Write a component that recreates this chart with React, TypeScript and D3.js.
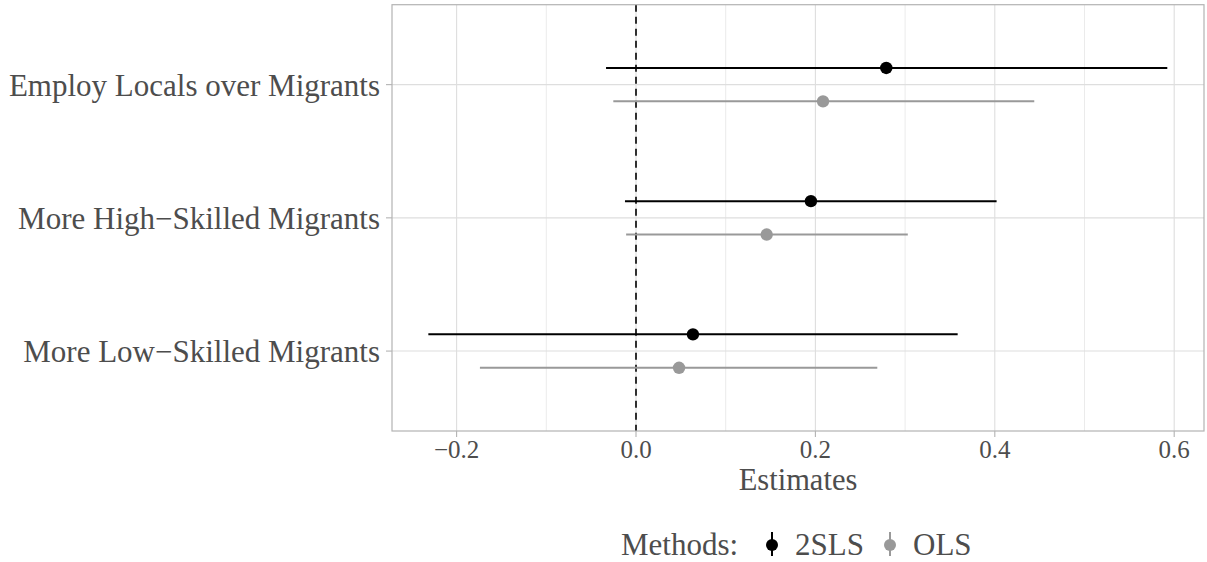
import React from "react";
import * as d3 from "d3";

// outcome labels, top to bottom
const outcomes = [
  "Employ Locals over Migrants",
  "More High\u2212Skilled Migrants",
  "More Low\u2212Skilled Migrants",
];
const methods = ["2SLS", "OLS"];
const methodColors = ["#000000", "#999999"];

// estimates per outcome (same order as outcomes)
const est2sls = [0.279, 0.195, 0.0635];
const lo2sls = [-0.0334, -0.0123, -0.2315];
const hi2sls = [0.5923, 0.402, 0.3586];
const estOls = [0.2085, 0.1457, 0.048];
const loOls = [-0.0253, -0.011, -0.174];
const hiOls = [0.444, 0.303, 0.269];

const xTicks = [-0.2, 0, 0.2, 0.4, 0.6];
const xMinor = [-0.1, 0.1, 0.3, 0.5];

const W = 1207;
const H = 562;
const FONT = "'Liberation Serif', 'Times New Roman', serif";
const TXT = "#4d4d4d";

const App = () => {
  const left = 392;
  const right = 1204;
  const top = 4.7;
  const bottom = 431;

  const x = d3
    .scaleLinear()
    .domain([-0.2, 0.6])
    .range([636 - 0.2 * 897, 636 + 0.6 * 897]);

  // discrete axis with ggplot-style 0.6 expansion
  const y = d3
    .scalePoint<string>()
    .domain(outcomes)
    .range([top, bottom])
    .padding(0.6);

  const dodge = 16.7;
  const rows = outcomes.flatMap((o, i) => [
    { o, m: 0, est: est2sls[i], lo: lo2sls[i], hi: hi2sls[i], dy: -dodge },
    { o, m: 1, est: estOls[i], lo: loOls[i], hi: hiOls[i], dy: dodge },
  ]);

  const fmt = (v: number) => d3.format(".1f")(v).replace("-", "\u2212");

  return (
    <svg
      width={W}
      height={H}
      style={{ position: "absolute", left: 0, top: 0, background: "#fff" }}
      fontFamily={FONT}
    >
      {/* grid */}
      {xMinor.map((t) => (
        <line key={"mi" + t} x1={x(t)} x2={x(t)} y1={top} y2={bottom} stroke="#ebebeb" strokeWidth={1} />
      ))}
      {xTicks.map((t) => (
        <line key={"ma" + t} x1={x(t)} x2={x(t)} y1={top} y2={bottom} stroke="#dedede" strokeWidth={1.1} />
      ))}
      {outcomes.map((o) => (
        <line key={"g" + o} x1={left} x2={right} y1={y(o)} y2={y(o)} stroke="#dedede" strokeWidth={1.1} />
      ))}

      {/* zero line */}
      <line x1={x(0)} x2={x(0)} y1={top} y2={bottom} stroke="#000" strokeWidth={1.6} strokeDasharray="7,5" />

      {/* intervals and points */}
      {rows.map((r, i) => {
        const cy = (y(r.o) as number) + r.dy;
        return (
          <g key={i}>
            <line x1={x(r.lo)} x2={x(r.hi)} y1={cy} y2={cy} stroke={methodColors[r.m]} strokeWidth={2} />
            <circle cx={x(r.est)} cy={cy} r={6.2} fill={methodColors[r.m]} />
          </g>
        );
      })}

      {/* panel border */}
      <rect x={left} y={top} width={right - left} height={bottom - top} fill="none" stroke="#b3b3b3" strokeWidth={1.2} />

      {/* y axis */}
      {outcomes.map((o) => (
        <g key={"yl" + o}>
          <line x1={left - 6} x2={left} y1={y(o)} y2={y(o)} stroke="#b3b3b3" strokeWidth={1.1} />
          <text x={380} y={(y(o) as number) + 11} textAnchor="end" fontSize={31} fill={TXT}>
            {o}
          </text>
        </g>
      ))}

      {/* x axis */}
      {xTicks.map((t) => (
        <g key={"xl" + t}>
          <line x1={x(t)} x2={x(t)} y1={bottom} y2={bottom + 6} stroke="#b3b3b3" strokeWidth={1.1} />
          <text x={x(t)} y={458} textAnchor="middle" fontSize={25} fill={TXT}>
            {fmt(t)}
          </text>
        </g>
      ))}
      <text x={(left + right) / 2} y={490} textAnchor="middle" fontSize={30.5} fill={TXT}>
        Estimates
      </text>

      {/* legend */}
      <text x={621} y={555} fontSize={31} fill={TXT}>
        Methods:
      </text>
      {methods.map((m, i) => {
        const kx = i === 0 ? 772 : 890;
        return (
          <g key={m}>
            <line x1={kx} x2={kx} y1={532} y2={556} stroke={methodColors[i]} strokeWidth={2} />
            <circle cx={kx} cy={545} r={6} fill={methodColors[i]} />
            <text x={kx + 23} y={555} fontSize={31} fill={TXT}>
              {m}
            </text>
          </g>
        );
      })}
    </svg>
  );
};

export default App;
